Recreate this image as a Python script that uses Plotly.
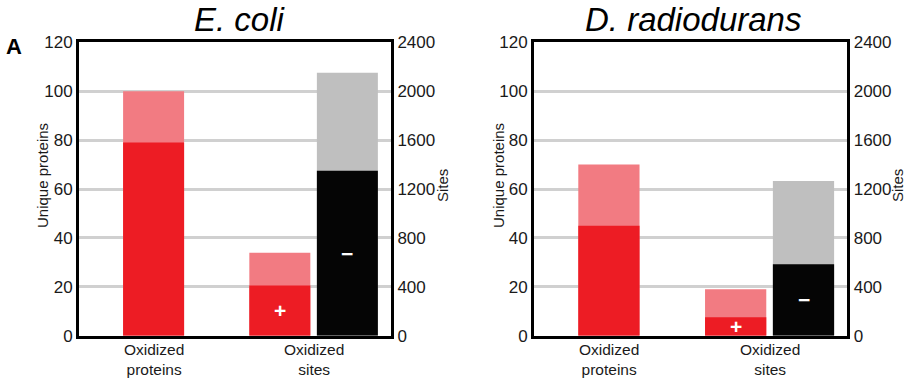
import plotly.graph_objects as go

W, H = 906, 379

# Panel titles and category labels
organisms = ["E. coli", "D. radiodurans"]
categories = ["Oxidized<br>proteins", "Oxidized<br>sites"]

# Unique oxidized proteins (left axis): total and the darker subset
proteins_total = [100, 70]
proteins_dark = [79, 45]

# Oxidized sites (right axis): "+" group and "−" group, total and darker subset
sites_pos_total = [678, 380]
sites_pos_dark = [410, 150]
sites_neg_total = [2150, 1265]
sites_neg_dark = [1350, 585]

# Axis ticks
protein_ticks = [0, 20, 40, 60, 80, 100, 120]
site_ticks = [0, 400, 800, 1200, 1600, 2000, 2400]

RED = "#ED1C24"
PINK = "#F27B82"
BLACK = "#050505"
GRAY = "#BFBFBF"
FONT = "Liberation Sans, Arial, sans-serif"
TEXT = "#1a1a1a"

def px_x(p):
    return p / W

def px_y(p):
    return 1 - p / H

y_dom = [px_y(335.7), px_y(42.3)]
x_doms = [[px_x(79), px_x(391)], [px_x(534), px_x(847.3)]]

BAR_W = 0.381
OFF_POS = -0.402
OFF_NEG = 0.02

fig = go.Figure()
annotations = []

for i in range(2):
    xa = "x" if i == 0 else "x2"
    ya_left = "y" if i == 0 else "y3"
    ya_right = "y2" if i == 0 else "y4"

    # proteins: light total bar with the dark subset drawn over it
    fig.add_trace(go.Bar(x=[categories[0]], y=[proteins_total[i]], width=BAR_W,
                         marker=dict(color=PINK, line_width=0), xaxis=xa, yaxis=ya_left,
                         showlegend=False, hoverinfo="skip"))
    fig.add_trace(go.Bar(x=[categories[0]], y=[proteins_dark[i]], width=BAR_W,
                         marker=dict(color=RED, line_width=0), xaxis=xa, yaxis=ya_left,
                         showlegend=False, hoverinfo="skip"))

    # sites: "+" pair and "−" pair side by side
    fig.add_trace(go.Bar(x=[categories[1]], y=[sites_pos_total[i]], width=BAR_W, offset=OFF_POS,
                         marker=dict(color=PINK, line_width=0), xaxis=xa, yaxis=ya_right,
                         showlegend=False, hoverinfo="skip"))
    fig.add_trace(go.Bar(x=[categories[1]], y=[sites_pos_dark[i]], width=BAR_W, offset=OFF_POS,
                         marker=dict(color=RED, line_width=0), xaxis=xa, yaxis=ya_right,
                         showlegend=False, hoverinfo="skip"))
    fig.add_trace(go.Bar(x=[categories[1]], y=[sites_neg_total[i]], width=BAR_W, offset=OFF_NEG,
                         marker=dict(color=GRAY, line_width=0), xaxis=xa, yaxis=ya_right,
                         showlegend=False, hoverinfo="skip"))
    fig.add_trace(go.Bar(x=[categories[1]], y=[sites_neg_dark[i]], width=BAR_W, offset=OFF_NEG,
                         marker=dict(color=BLACK, line_width=0), xaxis=xa, yaxis=ya_right,
                         showlegend=False, hoverinfo="skip"))

    # "+" / "−" markers centred in the dark segments
    for sign, off, dark in (("+", OFF_POS, sites_pos_dark[i]), ("\u2212", OFF_NEG, sites_neg_dark[i])):
        annotations.append(dict(text=f"<b>{sign}</b>", x=1 + off + BAR_W / 2, y=dark / 2,
                                xref=xa, yref=ya_right, xanchor="center", yanchor="middle",
                                showarrow=False,
                                font=dict(family=FONT, size=21, color="white")))

    # category labels under the axis
    for k, cat in enumerate(categories):
        annotations.append(dict(text=cat, x=k, y=px_y(359), xref=xa, yref="paper",
                                xanchor="center", yanchor="middle", showarrow=False,
                                font=dict(family=FONT, size=15.5, color=TEXT)))

tick_font = dict(family=FONT, size=17, color=TEXT)

for i in range(2):
    xkey = "xaxis" if i == 0 else "xaxis2"
    ylkey = "yaxis" if i == 0 else "yaxis3"
    yrkey = "yaxis2" if i == 0 else "yaxis4"
    xa = "x" if i == 0 else "x2"
    ylname = "y" if i == 0 else "y3"

    fig.layout[xkey] = dict(domain=x_doms[i], type="category", categoryorder="array",
                            categoryarray=categories, range=[-0.466, 1.483],
                            showline=True, linecolor="black", linewidth=3, mirror=True,
                            showgrid=False, ticks="", automargin=False, showticklabels=False,
                            anchor=ylname, fixedrange=True)
    fig.layout[ylkey] = dict(domain=y_dom, range=[0, 120], tickvals=protein_ticks,
                             showline=True, linecolor="black", linewidth=3,
                             showgrid=True, gridcolor="#d0d0d0", gridwidth=2.5,
                             zeroline=False, ticks="", tickfont=tick_font, anchor=xa,
                             automargin=False, fixedrange=True)
    fig.layout[yrkey] = dict(domain=y_dom, range=[0, 2400], tickvals=site_ticks,
                             overlaying=ylname, side="right",
                             showline=True, linecolor="black", linewidth=3,
                             showgrid=False, zeroline=False, ticks="", tickfont=tick_font,
                             anchor=xa, automargin=False, fixedrange=True)

title_x = [240, 692.5]
left_title_x = [42, 498]
right_title_x = [442, 897]
for i in range(2):
    annotations.append(dict(text=f"<i>{organisms[i]}</i>", x=px_x(title_x[i]), y=px_y(20),
                            xref="paper", yref="paper", xanchor="center", yanchor="middle",
                            showarrow=False, font=dict(family=FONT, size=33, color="black")))
    annotations.append(dict(text="Unique proteins", x=px_x(left_title_x[i]), y=px_y(176),
                            xref="paper", yref="paper", xanchor="center", yanchor="middle",
                            textangle=-90, showarrow=False,
                            font=dict(family=FONT, size=15, color=TEXT)))
    annotations.append(dict(text="Sites", x=px_x(right_title_x[i]), y=px_y(186),
                            xref="paper", yref="paper", xanchor="center", yanchor="middle",
                            textangle=-90, showarrow=False,
                            font=dict(family=FONT, size=15, color=TEXT)))
annotations.append(dict(text="<b>A</b>", x=px_x(14), y=px_y(47), xref="paper", yref="paper",
                        xanchor="center", yanchor="middle", showarrow=False,
                        font=dict(family=FONT, size=22, color="black")))

fig.update_layout(width=W, height=H, margin=dict(l=0, r=0, t=0, b=0),
                  barmode="overlay", plot_bgcolor="white", paper_bgcolor="white",
                  annotations=annotations, showlegend=False)

fig.write_html("out.html", config={"displayModeBar": False})
